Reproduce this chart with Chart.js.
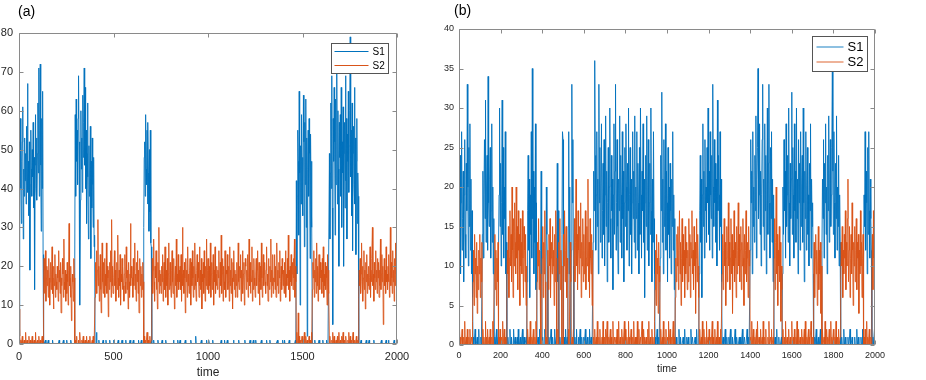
<!DOCTYPE html>
<html><head><meta charset="utf-8">
<script src="https://cdn.jsdelivr.net/npm/chart.js@4"></script>
<style>
html,body{margin:0;padding:0;background:#fff;width:926px;height:380px;overflow:hidden}
.p{position:absolute;top:0;height:380px}
#pa{left:0;width:420px}
#pb{left:420px;width:506px}
</style></head><body>
<div class="p" id="pa"><canvas id="ca"></canvas></div>
<div class="p" id="pb"><canvas id="cb"></canvas></div>
<script>
// ---------- data ----------
const seriesNames = ['S1', 'S2'];
const timeStep = 2.5;             // sampling interval of the series (time units)
const xTicksA = [0, 500, 1000, 1500, 2000];
const yTicksA = [0, 10, 20, 30, 40, 50, 60, 70, 80];
const xTicksB = [0, 200, 400, 600, 800, 1000, 1200, 1400, 1600, 1800, 2000];
const yTicksB = [0, 5, 10, 15, 20, 25, 30, 35, 40];

// panel (a), S1  (one row = 50 time units)
const s1a = [
 2,25,44,58,40,31,47,52,61,27,45,38,53,42,49,36,56,44,67,39,
 47,33,52,19,41,55,45,38,50,43,57,35,48,14,46,59,40,53,37,49,
 62,44,71,38,55,72,46,29,58,40,65,23,0,0,0,0,1,0,0,0,
 0,0,1,0,0,0,0,0,0,0,0,1,0,0,0,0,0,0,0,0,
 0,0,0,0,0,1,0,0,0,0,0,0,0,0,1,0,0,0,0,0,
 0,1,0,0,0,0,0,0,0,0,1,0,0,0,0,0,0,0,22,59,
 38,63,47,55,41,58,69,52,44,10,37,60,45,53,39,64,48,57,71,46,
 66,40,55,31,49,62,43,27,51,38,45,56,22,47,35,53,41,30,48,25,
 28,0,0,0,3,0,0,0,0,1,0,0,0,0,0,0,0,0,1,0,
 0,0,0,0,1,0,0,0,0,0,0,0,1,0,0,0,0,0,0,0,
 0,1,0,0,0,0,0,0,0,0,1,0,0,0,0,0,0,0,1,0,
 0,0,0,0,0,0,1,0,0,0,0,0,0,0,0,1,0,0,0,0,
 0,0,1,0,0,0,0,0,0,0,0,0,0,1,0,0,0,0,0,1,
 0,0,0,0,30,48,52,38,59,45,41,55,36,57,44,29,50,34,55,26,
 25,0,0,0,0,1,0,0,0,0,0,0,0,0,1,0,0,0,0,0,
 0,0,0,1,0,0,0,0,0,0,0,1,0,0,0,0,0,0,0,0,
 0,0,0,0,0,0,0,1,0,0,0,0,0,0,0,0,1,0,0,0,
 0,1,0,0,0,0,0,0,0,0,0,0,1,0,0,0,0,0,0,0,
 0,0,0,0,1,0,0,0,0,0,0,0,0,0,2,0,0,0,0,0,
 0,0,0,0,0,0,1,0,0,0,0,0,0,0,0,0,0,1,0,0,
 0,0,1,0,0,0,0,0,0,0,1,0,0,0,0,0,0,0,0,0,
 0,0,0,0,0,0,0,0,1,0,0,0,0,0,0,1,0,0,0,0,
 0,1,0,0,0,0,0,0,0,0,0,0,0,0,1,0,0,0,0,0,
 0,0,0,0,0,1,0,0,0,0,0,0,0,0,0,0,0,0,1,0,
 0,0,0,0,0,0,0,0,0,1,0,0,0,0,0,0,1,0,0,0,
 0,1,0,0,0,0,0,0,0,0,0,0,0,1,0,0,0,0,0,0,
 0,0,0,0,1,0,0,0,0,0,0,1,0,0,0,0,0,0,0,0,
 0,0,0,0,0,0,0,1,0,0,0,0,0,0,0,0,0,0,1,0,
 0,0,1,0,0,0,0,0,0,0,0,0,1,0,0,0,0,0,0,0,
 0,0,0,0,0,1,0,42,18,38,55,47,28,65,44,10,51,36,59,40,
 48,33,64,52,25,57,41,63,30,53,2,45,55,38,58,49,22,54,40,47,
 30,0,0,0,0,0,1,0,0,0,0,0,0,0,0,1,0,0,0,0,
 0,0,0,1,0,0,0,0,0,0,0,1,0,0,0,0,0,49,27,44,
 62,40,69,35,5,58,47,66,52,28,63,41,55,70,36,60,45,20,57,48,
 59,38,66,30,52,44,61,20,49,57,35,69,42,58,27,54,47,65,39,51,
 60,79,43,55,33,62,24,49,56,41,66,36,53,23,47,58,31,44,38,0,
 0,0,0,0,1,0,0,0,0,0,0,0,0,0,0,1,0,0,0,0,
 0,1,0,0,0,0,0,0,0,0,0,1,0,0,0,0,0,0,0,0,
 0,0,0,0,0,0,0,1,0,0,0,0,0,0,0,0,0,1,0,0,
 0,0,1,0,0,0,0,0,0,0,0,0,0,0,1,0,0,0,0,0,
 0
];
// panel (a), S2
const s2a = [
 9,5,2,0,1,0,0,2,0,0,0,1,0,0,3,0,0,1,0,0,
 0,2,0,0,1,0,0,0,2,0,0,0,1,0,0,3,0,0,0,1,
 0,0,2,0,0,1,0,0,0,2,0,0,16,22,13,19,24,11,17,20,
 15,19,12,22,17,10,16,21,14,18,25,13,17,9,20,15,23,12,18,16,
 14,20,17,11,24,16,19,13,21,8,17,15,22,18,12,27,16,14,19,11,
 18,13,21,16,10,19,31,15,17,12,20,6,14,18,16,11,22,17,0,1,
 0,0,2,0,0,0,1,0,0,3,0,0,0,1,0,0,2,0,0,0,
 1,0,0,2,0,0,0,1,0,0,2,0,0,0,0,1,0,2,0,0,
 0,12,21,16,24,13,19,32,15,20,11,17,23,14,8,18,26,16,13,21,
 16,22,12,18,15,26,13,20,17,7,19,14,21,16,24,12,32,15,20,13,
 13,17,24,15,19,11,16,21,14,28,17,12,19,15,23,10,18,16,22,14,
 20,15,11,18,23,16,13,25,17,14,19,9,21,16,12,18,31,15,20,17,
 17,12,22,15,19,26,14,18,11,21,16,24,13,19,8,17,22,15,20,12,
 18,14,21,16,0,2,0,0,1,0,0,3,0,0,1,0,0,2,0,0,
 1,15,22,13,19,27,16,11,20,17,24,14,18,9,21,16,30,13,19,15,
 18,13,20,16,23,11,17,21,14,25,16,12,19,15,22,10,18,26,14,17,
 21,15,12,19,24,16,13,18,22,9,17,20,15,27,12,18,16,23,14,19,
 16,20,14,23,11,18,30,15,19,13,21,17,8,22,16,19,12,25,15,18,
 13,19,22,16,10,21,15,24,17,12,20,14,26,18,15,11,19,23,16,21,
 17,12,25,15,19,14,22,9,18,16,21,13,24,17,11,20,15,27,14,19,
 22,16,13,20,15,26,12,18,21,14,17,23,10,19,16,25,13,18,15,20,
 14,19,17,24,12,16,21,15,28,13,18,22,11,20,16,14,24,17,12,19,
 18,23,14,16,20,11,25,15,19,13,22,17,9,21,16,24,14,19,12,18,
 15,21,12,18,26,16,14,20,17,23,11,19,15,24,13,18,21,10,17,22,
 20,14,19,16,23,12,17,27,15,21,13,18,16,25,11,19,14,22,17,15,
 12,18,22,15,19,24,13,17,21,10,16,20,14,26,17,12,19,23,15,18,
 21,16,13,19,25,15,18,11,22,17,14,20,16,27,12,19,15,23,13,17,
 16,23,14,20,12,18,26,15,19,13,21,17,24,11,16,20,14,22,18,15,
 19,13,21,16,24,12,18,15,22,17,28,14,19,11,20,16,23,15,18,21,
 14,22,17,27,12,20,16,0,3,0,1,8,0,2,0,0,1,0,0,2,
 0,1,0,0,3,0,0,2,0,0,1,0,0,0,2,0,1,0,0,3,
 0,14,21,17,24,12,19,16,22,13,26,15,20,11,18,23,16,14,21,17,
 19,13,22,16,25,12,18,15,21,14,20,17,10,23,16,19,13,0,2,0,
 0,0,1,0,3,0,0,2,0,0,0,1,0,0,2,0,0,3,0,0,
 1,0,0,2,0,0,3,0,0,1,0,0,2,0,0,0,1,0,3,0,
 0,2,0,0,1,0,0,3,0,0,1,0,0,0,2,0,0,1,0,12,
 19,15,22,13,18,26,16,20,11,17,24,14,19,9,21,16,23,13,18,15,
 20,14,17,25,12,19,16,22,30,15,18,11,21,17,14,24,16,19,13,22,
 17,21,12,19,15,27,14,18,23,16,20,5,17,22,15,19,13,25,16,18,
 14,20,16,23,12,18,30,15,21,17,13,24,16,19,11,22,15,26,18,20,
 25
];
// panel (b), S1
const s1b = [
 4,13,24,9,18,27,12,16,22,8,19,26,14,11,23,17,33,20,10,25,
 15,28,12,21,9,17,6,0,1,0,0,2,0,0,0,1,0,0,2,0,
 0,0,1,0,0,14,22,11,19,26,16,31,13,20,24,12,34,18,15,21,
 25,11,17,28,13,20,9,16,0,1,0,0,2,0,0,1,12,19,30,15,
 23,10,18,31,14,25,11,20,16,27,9,13,0,0,1,0,0,0,2,0,
 0,1,0,0,0,2,0,0,1,0,0,0,1,0,2,0,0,0,1,0,
 0,0,2,0,0,1,0,0,0,1,0,8,17,24,12,21,6,19,14,27,
 11,35,16,22,9,20,13,28,7,18,0,0,1,0,0,2,0,12,22,9,
 0,1,0,0,0,2,0,7,20,14,10,0,0,1,0,0,0,2,0,0,
 1,0,0,0,2,0,0,1,11,23,8,17,0,0,1,0,0,0,14,27,
 26,0,1,0,0,2,0,0,1,0,15,27,9,20,0,1,12,33,18,26,
 10,0,0,1,0,0,2,0,0,0,1,0,0,2,0,0,1,0,0,0,
 1,0,0,2,0,0,0,1,0,0,0,2,0,0,1,0,0,0,13,22,
 17,36,24,12,19,27,15,21,9,33,18,25,13,20,28,11,17,23,14,26,
 10,19,29,15,22,8,18,25,13,20,30,16,11,24,17,21,7,19,28,14,
 22,33,12,18,26,15,9,21,17,29,13,24,19,11,27,16,22,8,18,25,
 15,28,20,12,23,17,30,10,19,25,14,21,9,18,27,16,22,13,29,11,
 20,16,27,12,23,18,9,25,14,30,19,11,22,17,28,13,21,6,18,24,
 15,29,12,20,26,10,18,23,14,30,17,8,21,13,27,16,9,0,1,0,
 0,2,0,0,1,0,0,11,24,17,32,13,21,9,26,15,19,28,12,22,
 18,8,25,14,20,11,23,17,9,21,15,27,12,19,7,16,0,0,1,0,
 0,0,0,2,0,0,1,0,0,0,0,1,0,0,2,0,0,0,1,0,
 0,1,0,0,0,0,2,0,0,1,0,0,0,0,1,0,0,2,0,0,
 0,1,9,17,24,13,21,6,19,28,15,22,11,26,17,20,13,25,18,30,
 14,22,12,27,19,16,24,11,33,20,15,26,18,23,13,21,10,31,17,24,
 19,12,27,15,21,8,0,0,1,0,0,0,2,0,0,1,0,0,0,1,
 0,0,2,0,0,0,1,0,0,0,0,2,0,0,1,0,0,0,0,1,
 0,1,0,0,0,2,0,0,0,1,0,0,0,0,2,0,0,1,0,0,
 12,26,18,22,9,27,15,20,13,24,17,29,11,21,25,35,16,19,28,14,
 22,10,19,26,33,15,21,12,28,17,24,9,20,30,14,23,33,18,11,25,
 16,27,13,21,8,19,0,0,1,0,0,2,0,0,0,1,0,0,0,0,
 1,0,9,20,14,26,17,22,11,28,15,19,24,13,30,18,10,23,16,21,
 32,14,25,19,11,28,17,22,13,30,16,21,9,26,18,23,12,27,15,20,
 24,13,30,18,8,22,16,27,12,20,25,14,19,10,23,17,28,11,21,15,
 18,9,0,0,1,0,0,2,0,0,0,1,0,0,0,2,0,0,12,21,
 16,26,11,23,18,28,14,20,9,24,17,29,13,21,26,15,19,25,36,22,
 14,27,18,11,23,16,29,12,20,15,24,10,19,13,0,0,1,0,0,0,
 2,0,0,1,0,0,0,0,1,0,0,0,2,0,0,0,1,0,0,0,
 0,1,0,0,0,2,0,0,1,0,0,0,0,1,0,0,2,0,10,19,
 15,27,12,22,18,9,25,14,27,17,11,21,16,12,0,0,1,0,0,2,
 0
];
// panel (b), S2
const s2b = [
 4,2,0,1,0,0,2,0,0,1,0,3,0,0,1,0,2,0,0,1,
 0,2,0,0,1,0,3,8,12,5,14,9,11,6,13,4,10,7,12,9,
 14,6,11,8,13,0,2,0,1,0,0,3,0,1,0,2,0,0,1,0,
 2,0,0,1,0,3,0,0,9,14,7,12,5,11,8,13,0,1,0,2,
 0,0,1,0,3,0,0,2,0,1,0,0,7,12,9,15,6,11,17,10,
 14,8,20,12,6,16,10,18,13,9,20,11,15,7,17,12,14,5,16,10,
 13,9,17,11,6,15,12,8,14,5,10,0,2,0,0,1,0,3,0,0,
 1,0,0,2,0,0,1,0,3,0,8,13,10,16,7,12,9,0,0,1,
 11,15,6,13,9,17,8,0,1,0,0,12,7,14,10,16,6,11,13,9,
 15,10,12,5,14,8,17,11,0,0,2,0,13,9,16,7,12,10,0,1,
 0,14,10,17,8,12,15,6,11,9,0,2,0,0,13,8,0,0,1,0,
 2,11,16,8,13,21,10,14,7,17,12,9,15,11,18,6,13,10,16,8,
 14,9,12,17,7,11,15,10,21,8,13,6,16,11,9,14,5,12,0,1,
 0,2,0,0,1,0,3,0,0,1,0,2,0,0,0,1,0,3,0,0,
 1,0,2,0,0,3,0,0,1,0,0,2,0,1,0,0,3,0,0,1,
 0,0,1,0,2,0,0,3,0,0,1,0,0,2,0,1,0,0,3,0,
 2,0,0,1,0,0,3,0,1,0,0,2,0,0,1,0,3,0,0,1,
 0,1,0,3,0,0,2,0,0,1,0,0,3,0,0,2,0,1,0,0,
 1,0,0,2,0,3,0,0,1,0,0,2,0,1,0,0,3,7,12,5,
 14,9,11,4,13,8,10,0,2,0,0,1,0,3,0,0,1,0,2,0,
 0,1,0,3,0,0,2,0,0,1,0,0,3,0,1,0,6,11,8,14,
 10,15,7,12,17,9,13,5,11,16,8,14,10,12,6,15,9,13,11,7,
 12,8,16,10,14,6,13,11,17,9,12,7,15,10,13,4,11,16,8,14,
 10,6,0,2,0,0,1,0,3,0,0,2,0,1,0,0,3,0,0,1,
 0,2,0,0,1,0,0,3,0,1,0,0,2,0,0,1,0,3,0,0,
 1,0,0,2,0,0,9,14,7,12,16,10,13,5,11,15,8,12,18,10,
 13,7,11,16,9,14,4,12,10,17,8,13,11,6,15,9,12,18,10,14,
 8,12,15,7,13,10,16,11,5,14,9,12,17,8,11,13,6,15,10,12,
 0,1,0,3,0,0,2,0,0,1,0,0,2,0,3,0,0,1,0,0,
 2,0,0,1,0,3,0,0,1,0,2,0,0,0,1,0,3,0,0,1,
 0,2,0,0,1,0,11,16,7,13,20,9,14,5,12,10,15,8,13,3,
 10,7,0,2,0,0,1,0,3,0,0,1,0,0,2,0,0,1,0,0,
 3,0,0,1,0,2,0,0,1,0,3,0,0,2,0,0,1,0,0,2,
 0,1,0,0,2,0,3,0,0,1,0,0,2,0,1,0,0,3,0,0,
 1,0,8,13,6,11,14,9,12,5,10,15,7,12,9,13,4,10,0,2,
 0,0,1,0,3,0,0,2,0,1,0,0,2,0,0,3,0,1,0,0,
 2,0,0,1,0,3,0,0,1,0,2,0,0,1,8,13,10,15,6,12,
 9,14,11,17,7,13,10,16,21,8,12,15,6,11,14,9,18,12,5,13,
 10,15,8,12,16,7,13,11,14,4,12,9,17,10,13,6,11,14,0,1,
 0,2,0,0,3,0,1,0,0,2,0,0,1,0,9,14,7,17,11,13,
 10
];

// ---------- drawing ----------
const BLUE = '#0072BD', ORANGE = '#D95319', TXT = '#262626', FRAME = '#8a8a8a';
const FONT = '"Liberation Sans", Arial, sans-serif';

const toXY = arr => arr.map((v, i) => ({x: i * timeStep, y: v}));

function panelPlugin(cfg) {
  return {
    id: 'panelDeco',
    afterDatasetsDraw(chart) {
      const {ctx, chartArea: a, scales: {x, y}} = chart;
      ctx.save();
      ctx.strokeStyle = FRAME; ctx.lineWidth = 1;
      const L = Math.round(a.left) + 0.5, R = Math.round(a.right) - 0.5;
      const T = Math.round(a.top) + 0.5, B = Math.round(a.bottom) - 0.5;
      ctx.beginPath();
      x.ticks.forEach(t => {
        const px = Math.round(x.getPixelForValue(t.value)) + 0.5;
        ctx.moveTo(px, T); ctx.lineTo(px, T + cfg.tick);
        ctx.moveTo(px, B); ctx.lineTo(px, B - cfg.tick);
      });
      y.ticks.forEach(t => {
        const py = Math.round(y.getPixelForValue(t.value)) + 0.5;
        ctx.moveTo(L, py); ctx.lineTo(L + cfg.tick, py);
        ctx.moveTo(R, py); ctx.lineTo(R - cfg.tick, py);
      });
      ctx.rect(L, T, R - L, B - T);
      ctx.stroke();

      // legend box
      const lg = cfg.legend;
      const bx = Math.round(a.right - lg.inset - lg.w) + 0.5;
      const by = Math.round(a.top + lg.top) + 0.5;
      ctx.fillStyle = '#fff';
      ctx.fillRect(bx, by, lg.w, lg.h);
      ctx.strokeStyle = lg.border;
      ctx.strokeRect(bx, by, lg.w, lg.h);
      ctx.font = lg.font + 'px ' + FONT;
      ctx.textBaseline = 'middle';
      ctx.textAlign = 'left';
      chart.data.datasets.forEach((ds, i) => {
        const ly = by + lg.row0 + i * lg.rowGap;
        ctx.strokeStyle = ds.borderColor;
        ctx.globalAlpha = lg.alpha;
        ctx.lineWidth = lg.lw;
        ctx.beginPath();
        ctx.moveTo(bx + lg.l0, ly); ctx.lineTo(bx + lg.l1, ly);
        ctx.stroke();
        ctx.globalAlpha = 1;
        ctx.fillStyle = '#000';
        ctx.fillText(ds.label, bx + lg.tx, ly + 0.5);
      });

      // panel label
      ctx.fillStyle = '#000';
      ctx.font = cfg.labelFont + 'px ' + FONT;
      ctx.textBaseline = 'middle';
      ctx.fillText(cfg.label, cfg.labelX, cfg.labelY);
      ctx.restore();
    }
  };
}

function makeChart(canvasId, s1, s2, o) {
  return new Chart(document.getElementById(canvasId), {
    type: 'line',
    data: {
      datasets: [
        {label: seriesNames[0], data: toXY(s1), borderColor: BLUE, borderWidth: o.lw, pointRadius: 0, tension: 0, order: 1},
        {label: seriesNames[1], data: toXY(s2), borderColor: ORANGE, borderWidth: o.lw, pointRadius: 0, tension: 0, order: 0}
      ]
    },
    options: {
      responsive: true, maintainAspectRatio: false, animation: false,
      devicePixelRatio: 1,
      layout: {padding: {top: o.padTop, right: o.padRight, left: 0, bottom: 0}},
      plugins: {legend: {display: false}, tooltip: {enabled: false}},
      events: [],
      scales: {
        x: {
          type: 'linear', min: 0, max: 2000,
          afterBuildTicks: s => { s.ticks = o.xTicks.map(v => ({value: v})); },
          afterFit: s => { s.height = o.xHeight; },
          grid: {display: false, drawTicks: false},
          border: {display: false},
          ticks: {padding: o.xPad, color: TXT, font: {family: FONT, size: o.tickFont}, maxRotation: 0, autoSkip: false, callback: v => String(v)},
          title: {display: true, text: 'time', color: TXT, font: {family: FONT, size: o.titleFont}, padding: {top: 0, bottom: o.titlePad}}
        },
        y: {
          type: 'linear', min: 0, max: o.yMax,
          afterBuildTicks: s => { s.ticks = o.yTicks.map(v => ({value: v})); },
          afterFit: s => { s.width = o.yWidth; },
          grid: {display: false, drawTicks: false},
          border: {display: false},
          ticks: {padding: o.yPad, color: TXT, font: {family: FONT, size: o.tickFont}, autoSkip: false, callback: v => String(v)}
        }
      }
    },
    plugins: [panelPlugin(o.deco)]
  });
}

makeChart('ca', s1a, s2a, {
  lw: 0.9, padTop: 33, padRight: 23, xHeight: 36, yWidth: 19, yMax: 80,
  xTicks: xTicksA, yTicks: yTicksA, xPad: 6, yPad: 6, tickFont: 11, titleFont: 12, titlePad: 0,
  deco: {tick: 4, label: '(a)', labelX: 18, labelY: 12, labelFont: 14,
    legend: {inset: 9, top: 10, w: 57, h: 30, border: '#555', font: 10, row0: 8, rowGap: 14, l0: 3, l1: 37, tx: 41, lw: 1, alpha: 1}}
});
makeChart('cb', s1b, s2b, {
  lw: 0.9, padTop: 29, padRight: 51, xHeight: 35, yWidth: 39, yMax: 40,
  xTicks: xTicksB, yTicks: yTicksB, xPad: 5, yPad: 5, tickFont: 9, titleFont: 10.5, titlePad: 5,
  deco: {tick: 4, label: '(b)', labelX: 34, labelY: 11, labelFont: 14,
    legend: {inset: 8, top: 7, w: 55, h: 35, border: '#555', font: 13, row0: 10.5, rowGap: 15, l0: 4, l1: 31, tx: 35, lw: 1.5, alpha: 0.6}}
});
</script>
</body></html>
